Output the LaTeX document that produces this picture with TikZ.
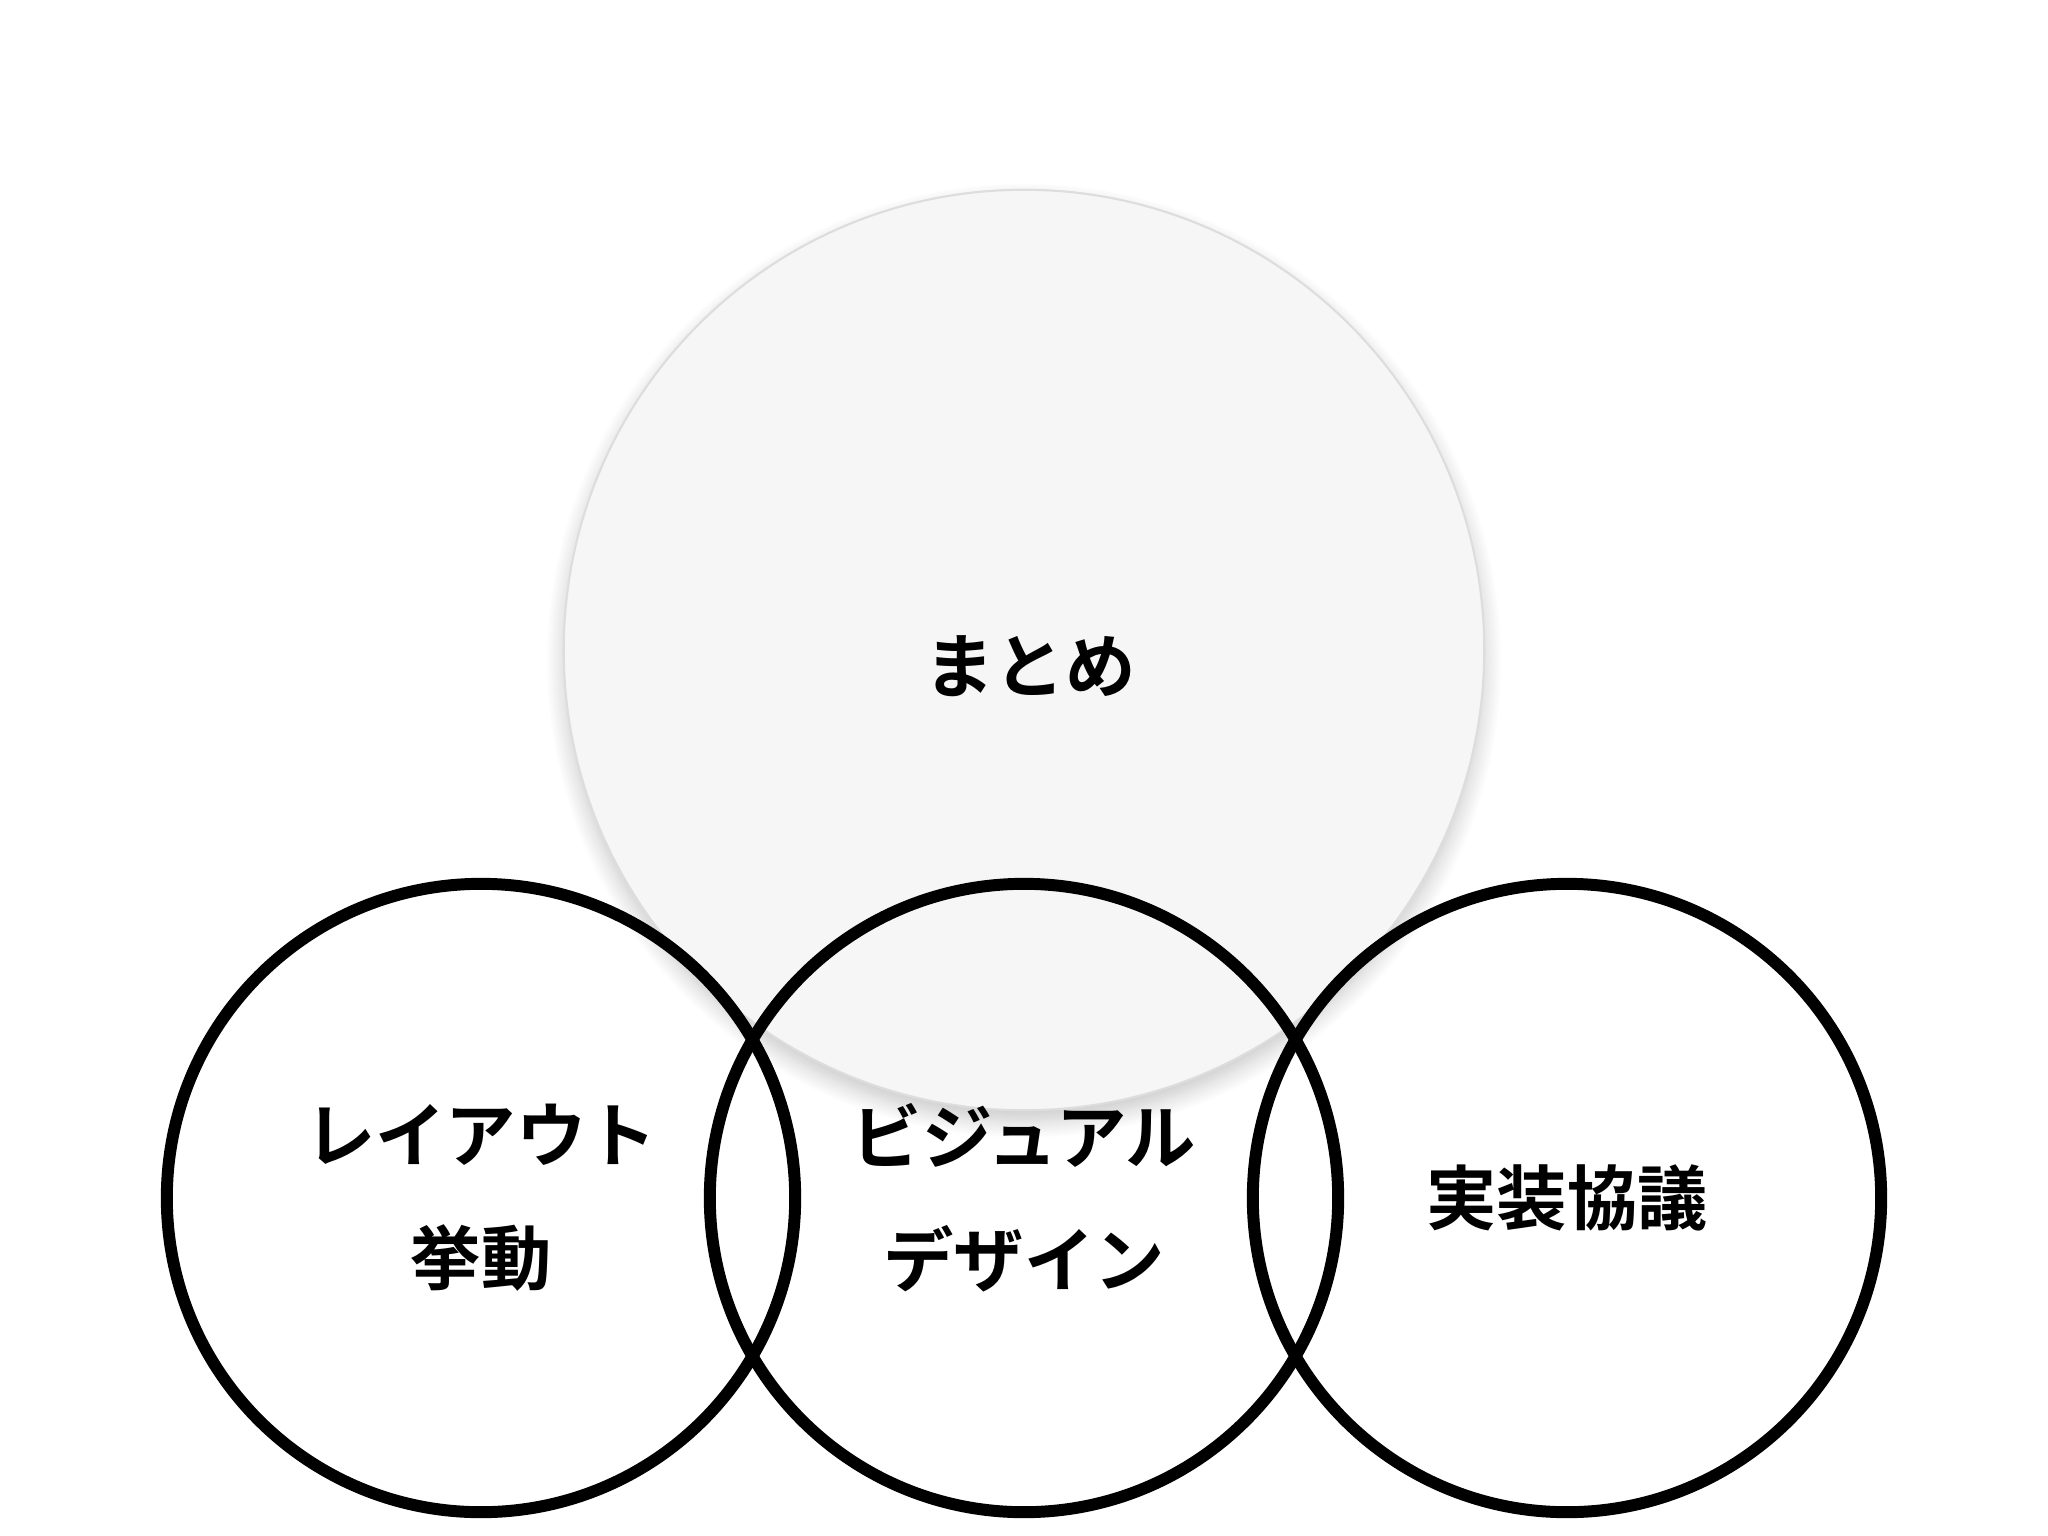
\documentclass[tikz,border=0pt]{standalone}
\usepackage{fontspec}
\setmainfont{Noto Sans CJK JP}[BoldFont={* Bold}]
\usepackage{tikz}
\usetikzlibrary{shapes,shadows,shadows.blur}
\definecolor{sumfill}{HTML}{F6F6F6}
\definecolor{sumline}{HTML}{DDDDDD}

\tikzset{
	topic/.style={circle, draw=black, line width=3.4pt, minimum size=6.28cm, inner sep=0pt, align=center, font=\bfseries\fontsize{20}{35}\selectfont},
	summary/.style={circle, draw=sumline, line width=0.6pt, fill=sumfill, minimum size=9.2cm, inner sep=0pt, font=\bfseries\fontsize{20}{24}\selectfont,
		blur shadow={shadow xshift=0pt, shadow yshift=-3pt, shadow blur steps=12, shadow blur radius=5pt, shadow opacity=22}}
}

\begin{document}
\begin{tikzpicture}[x=0.01cm, y=-0.01cm]
		\useasboundingbox (0,0) rectangle (2048,1536);
		
		\node[summary] (sum) at (1024,650) {};
		\node at (1030,666) (sumtext) {\bfseries\fontsize{20}{24}\selectfont まとめ};
		
		\node[topic] (layout) at (481,1198) {レイアウト\\挙動};
		\node[topic] (visual) at (1024,1198) {ビジュアル\\デザイン};
		\node[topic] (impl) at (1567,1198) {実装協議};
		
	\end{tikzpicture}
\end{document}
